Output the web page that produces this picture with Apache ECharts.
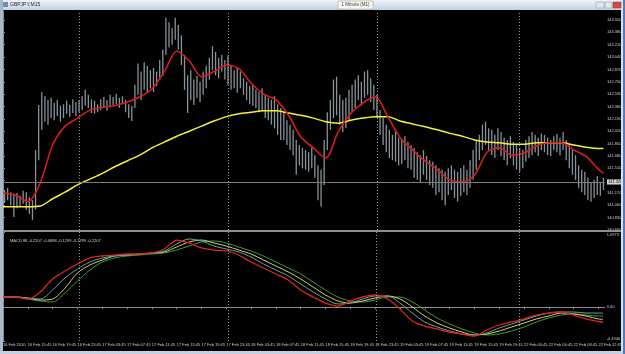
<!DOCTYPE html>
<html><head><meta charset="utf-8">
<script src="https://cdn.jsdelivr.net/npm/echarts@6/dist/echarts.min.js"></script>
<style>html,body{margin:0;padding:0;background:#c5d3e2;}#c{width:625px;height:354px;}</style>
</head><body><div id="c"></div>
<script>
const symbolTitle = 'GBPJPY,M15';
const tooltipText = '1 Minute (M1)';
const macdLegend = 'MACD 88 -0.2207 -0.0888 -0.1299 -0.1789 -0.2207';
const timeLabels = ['16 Feb 2010','16 Feb 15:45','16 Feb 19:45','16 Feb 23:45','17 Feb 03:45','17 Feb 07:45','17 Feb 11:45','17 Feb 15:45','17 Feb 19:45','17 Feb 23:45','18 Feb 03:45','18 Feb 07:45','18 Feb 11:45','18 Feb 15:45','18 Feb 19:45','18 Feb 23:45','19 Feb 03:45','19 Feb 07:45','19 Feb 11:45','19 Feb 15:45','19 Feb 19:45','22 Feb 00:45','22 Feb 04:45','22 Feb 08:45','22 Feb 12:45'];
const daySeparators = [49,145,241,333];
const bidPrice = 141.32;
const priceAxis = {min:140.66, max:143.674, step:0.17};
const macdTicks = [-0.4946, 0, 1.0973];

const barHigh = [141.21,141.24,141.18,141.16,141.17,141.13,141.20,141.18,141.11,141.07,141.76,
 142.38,142.56,142.50,142.45,142.48,142.41,142.45,142.37,142.39,142.44,
 142.38,142.46,142.42,142.45,142.50,142.59,142.52,142.46,142.44,142.39,
 142.46,142.49,142.45,142.52,142.49,142.53,142.48,142.50,142.45,142.39,
 142.37,142.66,142.95,142.84,142.97,142.92,142.86,142.89,142.84,143.00,
 143.14,143.58,143.52,143.44,143.58,143.48,143.34,143.07,142.79,142.86,
 142.73,142.78,142.70,142.84,142.92,143.03,143.19,143.11,143.03,143.07,
 143.00,143.06,142.93,142.86,142.89,142.84,142.75,142.70,142.64,142.67,
 142.59,142.56,142.61,142.52,142.48,142.45,142.50,142.39,142.34,142.28,
 142.17,142.11,142.04,141.90,141.83,141.79,141.76,141.73,141.79,141.69,
 141.55,141.49,141.90,142.28,142.45,142.73,142.77,142.52,142.45,142.48,
 142.59,142.66,142.73,142.79,142.70,142.84,142.86,142.75,142.66,142.52,
 142.31,142.20,142.11,142.04,141.97,142.01,141.93,141.90,141.95,141.87,
 141.83,141.79,141.73,141.69,141.76,141.68,141.62,141.60,141.55,141.51,
 141.49,141.46,141.51,141.55,141.49,141.46,141.51,141.55,141.49,141.62,
 141.76,141.90,141.97,142.11,142.15,142.06,142.04,141.97,142.06,142.01,
 141.93,141.90,141.95,141.87,141.83,141.79,141.76,141.90,141.95,142.01,
 141.97,141.93,141.99,141.97,141.93,141.90,141.95,141.98,141.93,142.01,
 141.90,141.83,141.76,141.69,141.55,141.49,141.46,141.38,141.32,141.35,141.40,141.32,141.38];
const barLow = [141.03,141.07,141.00,140.84,140.96,140.99,141.02,140.94,140.88,140.80,140.94,
 141.62,142.04,142.15,142.11,142.20,142.17,142.23,142.15,142.20,142.26,
 142.22,142.27,142.23,142.28,142.31,142.37,142.34,142.27,142.26,142.28,
 142.31,142.34,142.30,142.35,142.37,142.39,142.34,142.39,142.28,142.20,
 142.16,142.34,142.52,142.45,142.59,142.56,142.61,142.56,142.64,142.73,
 142.78,143.07,143.17,143.21,143.28,143.14,142.93,142.59,142.27,142.45,
 142.38,142.48,142.42,142.52,142.61,142.73,142.86,142.79,142.75,142.84,
 142.73,142.66,142.59,142.61,142.55,142.61,142.52,142.45,142.39,142.37,
 142.34,142.28,142.31,142.20,142.17,142.11,142.06,141.97,141.90,141.90,
 141.83,141.76,141.69,141.42,141.55,141.51,141.49,141.46,141.51,141.38,
 141.07,140.98,141.28,141.76,142.04,142.20,142.24,142.11,142.01,142.06,
 142.17,142.28,142.34,142.45,142.37,142.48,142.52,142.42,142.31,142.20,
 141.97,141.83,141.73,141.65,141.62,141.60,141.55,141.57,141.62,141.51,
 141.49,141.38,141.35,141.32,141.42,141.35,141.28,141.24,141.14,141.18,
 141.07,141.00,141.14,141.21,141.10,141.05,141.13,141.18,141.14,141.24,
 141.35,141.49,141.62,141.76,141.83,141.76,141.69,141.65,141.76,141.68,
 141.62,141.55,141.65,141.55,141.49,141.46,141.51,141.60,141.65,141.69,
 141.73,141.68,141.76,141.73,141.69,141.68,141.76,141.73,141.69,141.76,
 141.62,141.51,141.42,141.35,141.24,141.18,141.14,141.07,141.05,141.10,141.14,141.13,141.21];

const sampleIdx = [0,8,16,24,32,40,48,56,64,72,80,88,96,104,112,120,128,136,144,152,160,168,176,184,192,200,208,216,224,232,240,248,256,264,272,280,288,296,304,312,320,328,336,344,352,360,368,376,384,387];
const maFast = [141.17,141.14,141.05,141.31,141.83,142.09,142.20,142.31,142.35,142.37,142.42,142.49,142.60,142.84,143.12,142.99,142.77,142.84,142.93,142.88,142.68,142.53,142.45,142.24,141.94,141.79,141.65,142.01,142.26,142.41,142.49,142.22,141.93,141.76,141.61,141.49,141.35,141.32,141.42,141.73,141.79,141.69,141.72,141.82,141.86,141.86,141.76,141.67,141.49,141.44];
const maSlow = [140.98,140.98,140.98,140.99,141.09,141.18,141.28,141.36,141.44,141.53,141.61,141.69,141.79,141.87,141.95,142.02,142.09,142.16,142.22,142.26,142.28,142.30,142.30,142.27,142.24,142.20,142.15,142.13,142.17,142.20,142.22,142.22,142.16,142.12,142.08,142.04,141.99,141.95,141.90,141.87,141.86,141.84,141.84,141.86,141.86,141.86,141.83,141.80,141.78,141.78];
const macdRed = [0.148,0.148,0.119,0.221,0.411,0.528,0.630,0.718,0.747,0.761,0.776,0.776,0.791,0.849,0.980,0.937,0.864,0.834,0.820,0.761,0.659,0.572,0.484,0.396,0.250,0.148,0.060,0.016,0.090,0.148,0.177,0.119,-0.027,-0.202,-0.276,-0.319,-0.363,-0.393,-0.422,-0.334,-0.261,-0.217,-0.173,-0.115,-0.086,-0.071,-0.115,-0.173,-0.210,-0.2207];
const macdTeal = [0.148,0.148,0.133,0.119,0.250,0.426,0.557,0.659,0.718,0.747,0.761,0.776,0.791,0.820,0.922,0.995,0.966,0.893,0.849,0.805,0.732,0.630,0.542,0.455,0.338,0.221,0.119,0.046,0.060,0.119,0.163,0.163,0.060,-0.086,-0.217,-0.290,-0.349,-0.393,-0.407,-0.378,-0.305,-0.246,-0.188,-0.130,-0.086,-0.071,-0.071,-0.086,-0.086,-0.0888];
const macdYellow = [0.148,0.148,0.133,0.104,0.119,0.279,0.499,0.615,0.688,0.747,0.761,0.776,0.791,0.805,0.878,0.951,0.980,0.937,0.893,0.834,0.776,0.688,0.601,0.513,0.411,0.294,0.177,0.090,0.060,0.090,0.133,0.163,0.119,0.002,-0.130,-0.232,-0.305,-0.363,-0.407,-0.393,-0.349,-0.290,-0.232,-0.173,-0.130,-0.086,-0.100,-0.130,-0.173,-0.1789];
const macdGreen = [0.148,0.148,0.119,0.090,0.075,0.206,0.382,0.542,0.659,0.718,0.747,0.761,0.776,0.791,0.834,0.893,0.951,0.966,0.937,0.878,0.820,0.747,0.659,0.572,0.484,0.367,0.250,0.148,0.090,0.075,0.104,0.148,0.148,0.075,-0.042,-0.159,-0.246,-0.319,-0.378,-0.407,-0.393,-0.349,-0.290,-0.217,-0.159,-0.115,-0.100,-0.115,-0.130,-0.1299];

const pair = arr => arr.map((v,i) => [sampleIdx[i], v]);
const barData = barHigh.map((h,k) => [2*k+1, h, barLow[k]]);
const FONT = 'Liberation Sans';
const txt = '#cfcfcf';
const sepLine = {
  silent:true, symbol:'none', animation:false, label:{show:false},
  lineStyle:{color:'#9a9a9a', type:[1,2], width:1},
  data: daySeparators.map(v => ({xAxis:v}))
};

const chart = echarts.init(document.getElementById('c'), null, {renderer:'canvas'});
chart.setOption({
  backgroundColor:'#000',
  animation:false,
  title:{text:macdLegend, left:5, top:234, textStyle:{color:txt, fontSize:4, fontWeight:'normal', fontFamily:FONT}},
  grid:[
    {left:3, top:11, width:602, height:219},
    {left:3, top:232, width:602, height:109}
  ],
  xAxis:[
    {type:'value', gridIndex:0, min:0, max:388, interval:16, show:false},
    {type:'value', gridIndex:1, min:0, max:388, interval:16,
     axisLine:{show:true, lineStyle:{color:'#8c8c8c'}},
     axisTick:{show:true, length:2, lineStyle:{color:'#8c8c8c'}},
     splitLine:{show:false},
     axisLabel:{show:true, showMaxLabel:false, color:txt, fontSize:4, fontFamily:FONT, align:'left', margin:2,
       formatter: v => timeLabels[Math.round(v/16)] || ''}}
  ],
  yAxis:[
    {type:'value', gridIndex:0, position:'right', min:priceAxis.min, max:priceAxis.max, interval:priceAxis.step,
     axisLine:{show:true, lineStyle:{color:'#8c8c8c'}},
     axisTick:{show:true, length:2, lineStyle:{color:'#8c8c8c'}},
     splitLine:{show:false},
     axisLabel:{showMaxLabel:false, color:txt, fontSize:4, fontFamily:FONT, margin:2, formatter: v => v.toFixed(3)}},
    {type:'value', gridIndex:1, position:'right', min:macdTicks[0], max:macdTicks[2],
     axisLine:{show:true, lineStyle:{color:'#8c8c8c'}},
     axisTick:{show:true, length:2, customValues:macdTicks, lineStyle:{color:'#8c8c8c'}},
     splitLine:{show:false},
     axisLabel:{color:txt, fontSize:4, fontFamily:FONT, margin:2, customValues:macdTicks,
       formatter: v => v === 0 ? '0.00' : (v > 0 ? '{t|' + v.toFixed(4) + '}' : '{b|' + v.toFixed(4) + '}'),
       rich:{t:{fontSize:4, color:txt, fontFamily:FONT, padding:[6,0,0,0]}, b:{fontSize:4, color:txt, fontFamily:FONT, padding:[0,0,4,0]}}}}
  ],
  series:[
    {type:'custom', xAxisIndex:0, yAxisIndex:0, data:barData, encode:{x:0, y:[1,2]},
     renderItem:(params, api) => {
       const x = api.value(0);
       const p1 = api.coord([x, api.value(1)]);
       const p2 = api.coord([x, api.value(2)]);
       return {type:'line', shape:{x1:p1[0], y1:p1[1], x2:p1[0], y2:p2[1]}, style:{stroke:'#86939b', lineWidth:1.3}};
     },
     markLine:{
       silent:true, symbol:'none', animation:false,
       data:[
         ...daySeparators.map(v => ({xAxis:v, lineStyle:{color:'#9a9a9a', type:[1,2], width:1}, label:{show:false}})),
         {yAxis:bidPrice, lineStyle:{color:'#7c7c7c', type:'solid', width:1},
          label:{show:true, position:'end', distance:2, formatter: bidPrice.toFixed(3), color:'#000',
                 backgroundColor:'#d4d4d4', fontSize:4, fontFamily:FONT, padding:[1,1,0,1]}}
       ]
     }},
    {type:'line', xAxisIndex:0, yAxisIndex:0, data:pair(maSlow), showSymbol:false, smooth:0.3,
     lineStyle:{color:'#f2f03c', width:1.5}},
    {type:'line', xAxisIndex:0, yAxisIndex:0, data:pair(maFast), showSymbol:false, smooth:0.3,
     lineStyle:{color:'#d61c1c', width:1.6}},
    {type:'line', xAxisIndex:1, yAxisIndex:1, data:pair(macdGreen), showSymbol:false, smooth:0.3,
     lineStyle:{color:'#3e9a3e', width:1}, markLine:sepLine},
    {type:'line', xAxisIndex:1, yAxisIndex:1, data:pair(macdYellow), showSymbol:false, smooth:0.3,
     lineStyle:{color:'#d8d070', width:1}},
    {type:'line', xAxisIndex:1, yAxisIndex:1, data:pair(macdTeal), showSymbol:false, smooth:0.3,
     lineStyle:{color:'#5aa8b2', width:1}},
    {type:'line', xAxisIndex:1, yAxisIndex:1, data:pair(macdRed), showSymbol:false, smooth:0.3,
     lineStyle:{color:'#e42020', width:1.3}}
  ],
  graphic:[
    {type:'rect', shape:{x:0, y:0, width:625, height:10}, z:100,
     style:{fill:new echarts.graphic.LinearGradient(0,0,0,1,[{offset:0,color:'#eef3f8'},{offset:1,color:'#c3d2e2'}])}},
    {type:'rect', shape:{x:0, y:0, width:3, height:354}, z:100, style:{fill:'#a9b9cc'}},
    {type:'rect', shape:{x:621, y:0, width:4, height:354}, z:100, style:{fill:'#d6e1ec'}},
    {type:'rect', shape:{x:623, y:0, width:2, height:354}, z:101, style:{fill:'#4f7fc0'}},
    {type:'rect', shape:{x:0, y:351, width:625, height:3}, z:100, style:{fill:'#c2d2e4'}},
    {type:'rect', shape:{x:3, y:230, width:618, height:2}, z:100, style:{fill:'#8e8e8e'}},
    {type:'rect', shape:{x:3, y:2, width:5, height:5}, z:101, style:{fill:'#6a8fb8'}},
    {type:'text', x:10, y:5, z:101, style:{text:symbolTitle, fill:'#2a2a2a', fontSize:5, fontFamily:FONT, verticalAlign:'middle'}},
    {type:'rect', shape:{x:338, y:1, width:35, height:8}, z:101, style:{fill:'#f5f5ec', stroke:'#9a9a9a', lineWidth:0.5}},
    {type:'text', x:355.5, y:5, z:102, style:{text:tooltipText, fill:'#444', fontSize:4.5, fontFamily:FONT, align:'center', verticalAlign:'middle'}},
    {type:'rect', shape:{x:596, y:2, width:8, height:6}, z:101, style:{fill:'#dfe6ee', stroke:'#8094ac', lineWidth:0.5}},
    {type:'rect', shape:{x:605, y:2, width:7, height:6}, z:101, style:{fill:'#dfe6ee', stroke:'#8094ac', lineWidth:0.5}},
    {type:'rect', shape:{x:613, y:2, width:8, height:6}, z:101, style:{fill:'#d24a3a', stroke:'#8a3020', lineWidth:0.5}}
  ]
});
</script></body></html>
